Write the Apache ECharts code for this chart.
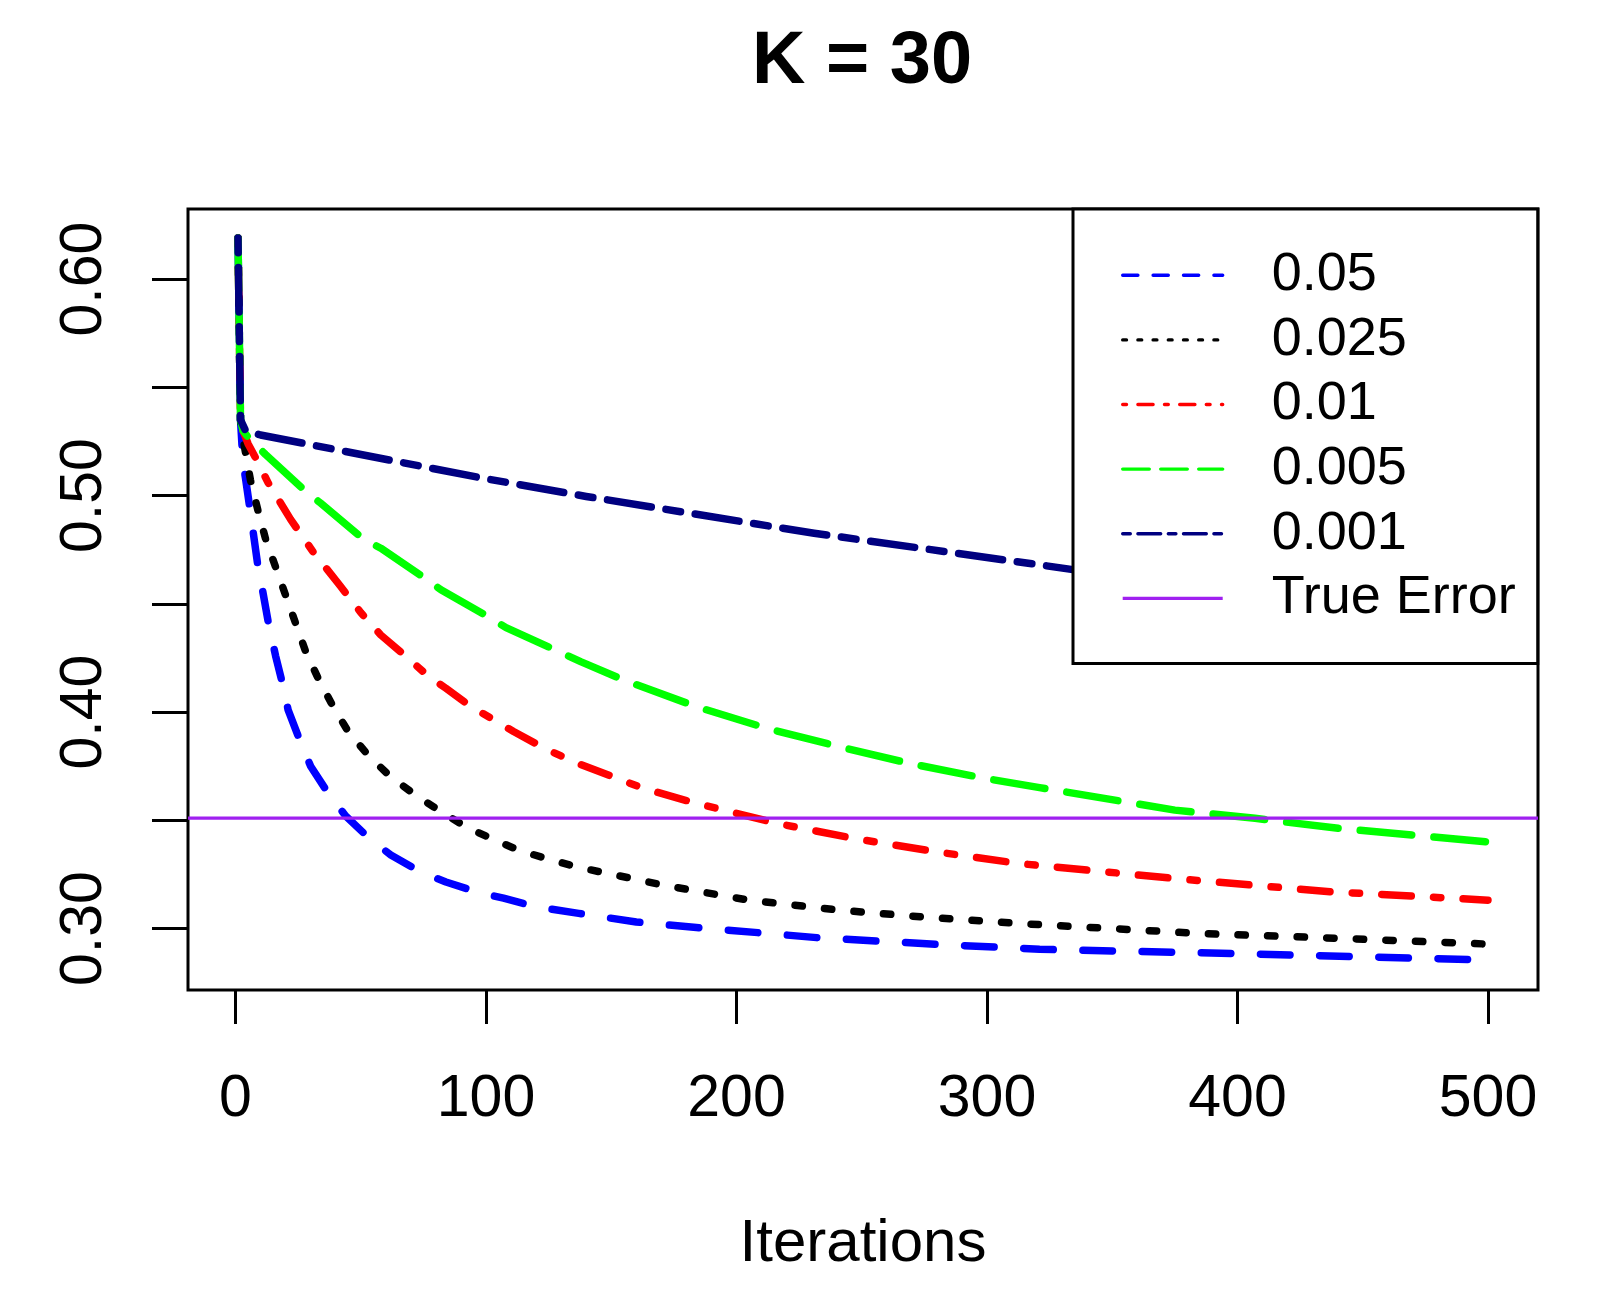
<!DOCTYPE html>
<html>
<head>
<meta charset="utf-8">
<title>K = 30</title>
<script src="https://cdn.jsdelivr.net/npm/echarts@6/dist/echarts.min.js"></script>
<style>
  html, body { margin: 0; padding: 0; background: #fff; }
  #main { width: 1614px; height: 1296px; }
</style>
</head>
<body>
<div id="main"></div>
<script>
// values (iteration, error)
var itBlue  = [1, 2, 3, 4, 6, 9, 11, 13, 16, 19, 21, 26, 30, 37, 44, 54, 62, 74, 84, 96, 107, 120, 137, 160, 184, 232, 280, 321, 401, 500];
var errBlue = [0.619, 0.535, 0.515, 0.508, 0.492, 0.467, 0.455, 0.442, 0.426, 0.412, 0.401, 0.386, 0.375, 0.3625, 0.352, 0.341, 0.334, 0.326, 0.3215, 0.317, 0.314, 0.310, 0.307, 0.303, 0.3005, 0.2958, 0.2927, 0.2904, 0.2884, 0.2855];

var itBlack  = [1, 2, 3, 4, 6, 9, 12, 16, 20, 24, 28, 33, 39, 45, 53, 62, 71, 81, 92, 102, 113, 124, 136, 171, 205, 241, 277, 313, 385, 440, 500];
var errBlack = [0.619, 0.535, 0.526, 0.520, 0.507, 0.493, 0.480, 0.467, 0.454, 0.441, 0.428, 0.4156, 0.4025, 0.391, 0.380, 0.370, 0.3624, 0.3547, 0.347, 0.3416, 0.3362, 0.3324, 0.3285, 0.320, 0.3131, 0.3085, 0.3051, 0.3023, 0.2977, 0.2955, 0.2928];

var itRed  = [1, 2, 3, 5, 8, 13, 22, 31, 42, 50, 58, 69, 77, 84, 94, 100, 111, 123, 135, 163, 184, 195, 216, 247, 280, 313, 375, 438, 500];
var errRed = [0.619, 0.535, 0.530, 0.524, 0.5175, 0.506, 0.489, 0.474, 0.458, 0.446, 0.4356, 0.4248, 0.4165, 0.411, 0.4025, 0.3985, 0.391, 0.3835, 0.377, 0.3647, 0.3578, 0.3547, 0.3486, 0.3416, 0.3354, 0.330, 0.3231, 0.3169, 0.3131];

var itGreen  = [1, 2, 3, 5, 12, 28, 34, 51, 58, 76, 82, 102, 108, 128, 138, 155, 184, 212, 241, 269, 299, 321, 375, 407, 441, 500];
var errGreen = [0.619, 0.535, 0.530, 0.527, 0.519, 0.502, 0.4965, 0.480, 0.4757, 0.4615, 0.4565, 0.4433, 0.4390, 0.4285, 0.4232, 0.4148, 0.4025, 0.3925, 0.384, 0.3763, 0.3694, 0.3651, 0.3547, 0.3509, 0.3462, 0.340];

var itNavy  = [1, 2, 4, 10, 98, 140, 231, 321, 335, 420, 500];
var errNavy = [0.619, 0.535, 0.530, 0.528, 0.5082, 0.4996, 0.4826, 0.468, 0.4657, 0.455, 0.444];

var trueError = 0.351;

var rateNames = ['0.05', '0.025', '0.01', '0.005', '0.001'];
var xTicks = [0, 100, 200, 300, 400, 500];
var yTicks = [0.30, 0.35, 0.40, 0.45, 0.50, 0.55, 0.60];
var yLabels = [0.30, 0.40, 0.50, 0.60];

var FONT = '"Liberation Sans", Arial, Helvetica, sans-serif';
var xMin = -18.96, xMax = 519.96;

function pairs(xs, ys) {
    return xs.map(function (x, i) { return [x, ys[i]]; });
}

// R line types: dashed, dotted, dotdash, longdash, twodash
var u = 7.4, lu = 3.8;
var styles = [
    { color: '#0000FF', dash: [4, 4] },
    { color: '#000000', dash: [1, 3] },
    { color: '#FF0000', dash: [1, 3, 4, 3] },
    { color: '#00FF00', dash: [7, 3] },
    { color: '#000080', dash: [2, 2, 6, 2] }
];
var curves = [pairs(itBlue, errBlue), pairs(itBlack, errBlack), pairs(itRed, errRed), pairs(itGreen, errGreen), pairs(itNavy, errNavy)];

var series = curves.map(function (d, i) {
    return {
        name: rateNames[i],
        type: 'line',
        data: d,
        symbol: 'none',
        clip: true,
        lineStyle: {
            color: styles[i].color,
            width: 7.5,
            type: styles[i].dash.map(function (v) { return v * u; }),
            cap: 'round',
            join: 'round'
        },
        z: 2
    };
});
series.push({
    name: 'True Error',
    type: 'line',
    data: [[xMin, trueError], [xMax, trueError]],
    symbol: 'none',
    lineStyle: { color: '#A020F0', width: 3.3 },
    z: 2
});

var legendData = rateNames.map(function (n, i) {
    return {
        name: n,
        lineStyle: {
            width: 3.4,
            type: styles[i].dash.map(function (v) { return v * lu; }),
            cap: 'round'
        }
    };
});
legendData.push({ name: 'True Error', lineStyle: { width: 3.3, type: 'solid' } });

var myChart = echarts.init(document.getElementById('main'));
myChart.setOption({
    animation: false,
    backgroundColor: '#fff',
    title: {
        text: 'K = 30',
        left: 862,
        top: 63,
        padding: 0,
        textAlign: 'center',
        textVerticalAlign: 'middle',
        textStyle: { fontSize: 74, fontWeight: 'bold', color: '#000', fontFamily: FONT }
    },
    grid: {
        left: 188, right: 76, top: 209, bottom: 306,
        show: true, borderColor: '#000', borderWidth: 3,
        outerBoundsMode: 'none'
    },
    legend: {
        orient: 'vertical',
        left: 1073,
        top: 209,
        padding: [34, 22, 33, 48],
        itemWidth: 100,
        itemHeight: 20,
        itemGap: 0,
        backgroundColor: '#fff',
        borderColor: '#000',
        borderWidth: 3,
        borderRadius: 0,
        selectedMode: false,
        itemStyle: { opacity: 0 },
        textStyle: { fontSize: 54, lineHeight: 64.6, color: '#000', fontFamily: FONT, padding: [0, 0, 0, 44] },
        data: legendData,
        z: 10
    },
    xAxis: {
        type: 'value',
        min: xMin,
        max: xMax,
        axisLine: { show: false, onZero: false },
        splitLine: { show: false },
        axisTick: { show: true, customValues: xTicks, length: 34, lineStyle: { color: '#000', width: 3 } },
        axisLabel: { customValues: xTicks, margin: 80, fontSize: 59, color: '#000', fontFamily: FONT },
        name: 'Iterations',
        nameLocation: 'middle',
        nameGap: 224,
        nameTextStyle: { fontSize: 60, color: '#000', fontFamily: FONT }
    },
    yAxis: {
        type: 'value',
        min: 0.2716,
        max: 0.6324,
        axisLine: { show: false, onZero: false },
        splitLine: { show: false },
        axisTick: { show: true, customValues: yTicks, length: 36, lineStyle: { color: '#000', width: 3 } },
        axisLabel: {
            customValues: yLabels,
            rotate: 90,
            margin: 74,
            fontSize: 59,
            color: '#000',
            fontFamily: FONT,
            formatter: function (v) { return v.toFixed(2); }
        }
    },
    series: series
});
</script>
</body>
</html>
